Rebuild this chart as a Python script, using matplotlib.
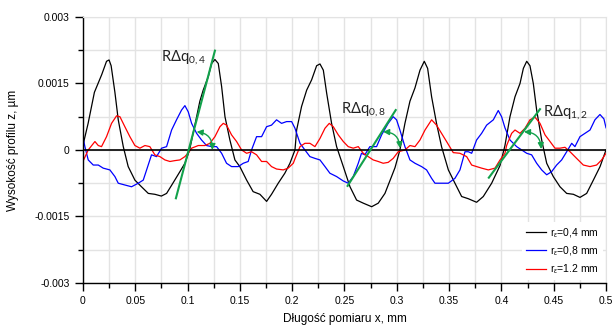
import matplotlib.pyplot as plt
from matplotlib.patches import FancyArrowPatch
from matplotlib.ticker import MultipleLocator, FuncFormatter

plt.rcParams['mathtext.fontset'] = 'custom'
plt.rcParams['mathtext.rm'] = 'Lato'
plt.rcParams['mathtext.it'] = 'Lato:italic'

# profile r=0.4 mm (black)
x_04 = [0, 0.005, 0.011, 0.018, 0.0226, 0.025, 0.027, 0.0306, 0.0338, 0.0386, 0.0433, 0.0497,
        0.056, 0.0625, 0.0688, 0.075, 0.08, 0.086, 0.0927, 0.0975, 0.102, 0.104, 0.1087, 0.1118,
        0.115, 0.1198, 0.123, 0.1262, 0.1294, 0.1326, 0.1358, 0.1405, 0.1453, 0.15, 0.1565,
        0.1627, 0.1692, 0.1756, 0.1803, 0.1867, 0.193, 0.1979, 0.2027, 0.2043, 0.209, 0.2139,
        0.2186, 0.2234, 0.2266, 0.2298, 0.233, 0.2377, 0.2425, 0.2489, 0.2553, 0.2616, 0.268,
        0.276, 0.2823, 0.2887, 0.295, 0.2983, 0.303, 0.3078, 0.3126, 0.3174, 0.3222, 0.3263,
        0.3295, 0.3333, 0.338, 0.3428, 0.3493, 0.3556, 0.362, 0.3684, 0.3763, 0.3827, 0.3907,
        0.3987, 0.4034, 0.4082, 0.413, 0.4178, 0.421, 0.4242, 0.4273, 0.4305, 0.4337, 0.4385,
        0.4433, 0.4496, 0.456, 0.4624, 0.4688, 0.4751, 0.4815, 0.4879, 0.4943, 0.5]
z_04 = [0.0001, 0.0006, 0.0013, 0.0017, 0.002, 0.00203, 0.0019, 0.0013, 0.00068, 0.000075,
        -0.000375, -0.00068, -0.00083, -0.00098, -0.001, -0.00104, -0.00098, -0.00075, -0.00049,
        -0.0003, 0.0, 0.000225, 0.00075, 0.0011, 0.00135, 0.00165, 0.00195, 0.00204, 0.00195,
        0.00143, 0.00075, 0.000225, -0.000225, -0.000375, -0.00068, -0.00094, -0.001, -0.00116,
        -0.001, -0.00075, -0.000525, -0.0003, 0.0, 0.00045, 0.00098, 0.00135, 0.00158, 0.0019,
        0.00194, 0.0018, 0.00128, 0.0006, 0.000075, -0.000375, -0.00083, -0.00113, -0.0012,
        -0.00128, -0.0012, -0.00098, -0.0006, -0.0004, 0.0, 0.0006, 0.0011, 0.0014, 0.0018,
        0.002, 0.00184, 0.0012, 0.0006, 0.000075, -0.00045, -0.00075, -0.00105, -0.0011,
        -0.00118, -0.00105, -0.00075, -0.00035, 0.0001, 0.00075, 0.0012, 0.0015, 0.00184, 0.002,
        0.0019, 0.0015, 0.0009, 0.000225, -0.0003, -0.0006, -0.00083, -0.00098, -0.001,
        -0.00107, -0.00098, -0.00068, -0.000375, 0.0]

# profile r=0.8 mm (blue)
x_08 = [0, 0.0019, 0.0051, 0.0099, 0.0147, 0.0194, 0.0258, 0.0306, 0.0338, 0.0401, 0.0465,
        0.0529, 0.0577, 0.0609, 0.0656, 0.0704, 0.0752, 0.08, 0.0848, 0.0895, 0.0943, 0.0975,
        0.1007, 0.1039, 0.1087, 0.1134, 0.1182, 0.123, 0.1278, 0.1326, 0.1373, 0.1421, 0.1485,
        0.1533, 0.158, 0.1612, 0.166, 0.1708, 0.1756, 0.1803, 0.1851, 0.1899, 0.1947, 0.1995,
        0.2027, 0.2075, 0.2122, 0.217, 0.2218, 0.2266, 0.2314, 0.2361, 0.2425, 0.2489, 0.2536,
        0.2584, 0.2632, 0.2663, 0.2695, 0.2743, 0.2807, 0.2855, 0.2918, 0.2966, 0.2998, 0.303,
        0.3078, 0.3126, 0.3174, 0.3237, 0.3285, 0.3333, 0.3365, 0.3428, 0.3493, 0.3556, 0.3604,
        0.3652, 0.3684, 0.3716, 0.3763, 0.3811, 0.3859, 0.3923, 0.397, 0.4002, 0.4034, 0.4082,
        0.4146, 0.4194, 0.4242, 0.4289, 0.4337, 0.4385, 0.4433, 0.448, 0.4528, 0.4576, 0.4624,
        0.4672, 0.4703, 0.4751, 0.4799, 0.4847, 0.4894, 0.4942, 0.498, 0.5]
z_08 = [0.0003, 0.000075, -0.000225, -0.00034, -0.00034, -0.00041, -0.00045, -0.0006, -0.00075,
        -0.00079, -0.00083, -0.00075, -0.00068, -0.00045, -0.00011, -0.00015, 0.00004, 0.000075,
        0.00045, 0.00068, 0.0009, 0.001, 0.00086, 0.0006, 0.000375, 0.000225, 0.0001, 0.000075,
        0.000075, -0.000075, -0.0003, -0.000375, -0.000375, -0.0003, -0.00026, 0.0, 0.0003,
        0.0003, 0.000525, 0.00056, 0.00068, 0.0006, 0.00064, 0.00064, 0.00049, 0.00015, 0.0,
        -0.00015, -0.00019, -0.000225, -0.000375, -0.000525, -0.0006, -0.0007, -0.00075,
        -0.0006, -0.0003, -0.000075, -0.00011, 0.000075, 0.000075, 0.00034, 0.0006, 0.00075,
        0.00068, 0.00045, 0.000075, -0.000225, -0.0003, -0.000375, -0.00045, -0.00064, -0.00075,
        -0.00075, -0.00075, -0.00064, -0.00045, -0.00004, -0.00004, -0.000075, 0.000225,
        0.000375, 0.00056, 0.00068, 0.00089, 0.00075, 0.0005, 0.000225, 0.000075, 0.0,
        -0.000075, -0.00011, -0.0003, -0.00045, -0.00056, -0.00049, -0.00034, -0.000225,
        -0.00004, 0.00015, 0.000075, 0.0003, 0.000375, 0.00045, 0.00068, 0.0008, 0.0007, 0.0005]

# profile r=1.2 mm (red)
x_12 = [0, 0.0051, 0.0115, 0.0147, 0.0178, 0.0226, 0.0274, 0.0322, 0.0354, 0.0401, 0.0449,
        0.0497, 0.0545, 0.0593, 0.064, 0.0688, 0.0736, 0.0784, 0.0832, 0.088, 0.0927, 0.0975,
        0.1016, 0.1039, 0.1103, 0.1166, 0.1214, 0.1262, 0.131, 0.1342, 0.1373, 0.1421, 0.1469,
        0.1517, 0.1565, 0.1612, 0.166, 0.1708, 0.1756, 0.1803, 0.1851, 0.1915, 0.1962, 0.2011,
        0.2027, 0.2075, 0.2122, 0.217, 0.2218, 0.2266, 0.2314, 0.2355, 0.2393, 0.2441, 0.2489,
        0.2536, 0.2584, 0.2632, 0.268, 0.2727, 0.2775, 0.2823, 0.287, 0.2918, 0.2966, 0.3014,
        0.3078, 0.3126, 0.3174, 0.3222, 0.327, 0.3333, 0.338, 0.3428, 0.3476, 0.354, 0.3604,
        0.3668, 0.3716, 0.3763, 0.3811, 0.3875, 0.3939, 0.3987, 0.4034, 0.405, 0.4098, 0.413,
        0.4178, 0.4226, 0.4273, 0.4321, 0.4369, 0.4417, 0.4465, 0.4512, 0.456, 0.4608, 0.4656,
        0.4719, 0.4783, 0.4847, 0.491, 0.4958, 0.5]
z_12 = [-0.00026, 0.0, 0.00019, 0.0001, 0.000075, 0.0003, 0.0006, 0.00077, 0.00075, 0.000525,
        0.0003, 0.0001, 0.00004, 0.0001, 0.000075, -0.00011, -0.00015, -0.000225, -0.00026,
        -0.00024, -0.000225, -0.00015, -0.00004, 0.00004, 0.0001, 0.0001, 0.00015, 0.0003,
        0.000525, 0.0006, 0.00056, 0.00034, 0.00019, 0.0, -0.000075, -0.00004, -0.00011,
        -0.00026, -0.00026, -0.000375, -0.00043, -0.00045, -0.00041, -0.0003, -0.0002,
        0.000075, 0.00015, 0.00015, 0.000075, 0.00026, 0.00049, 0.0006, 0.000525, 0.00034,
        0.00019, 0.000075, 0.00004, 0.000075, -0.000075, -0.00015, -0.000225, -0.00026, -0.0003,
        -0.00028, -0.00019, -0.00004, 0.0, 0.0001, 0.000075, 0.000225, 0.00045, 0.00068,
        0.00056, 0.000375, 0.00019, -0.00006, -0.000075, -0.00015, -0.00034, -0.000375,
        -0.00041, -0.00045, -0.00041, -0.000225, -0.000075, 0.0001, 0.000375, 0.00045, 0.000375,
        0.00049, 0.00068, 0.00074, 0.0006, 0.00034, 0.00019, 0.00004, 0.00004, 0.00006,
        -0.00004, -0.00019, -0.00034, -0.000375, -0.00034, -0.000225, -0.000075]

# tangent lines (start, end) and angle arcs
tangents = [((0.0889, -0.00109), (0.1262, 0.00224)),
            ((0.253, -0.00081), (0.299, 0.0009)),
            ((0.388, -0.000625), (0.4369, 0.00092))]
arcs = [((0.1087, 0.00041), (0.1237, 0.0)),
        ((0.287, 0.00041), (0.303, 0.00004)),
        ((0.4216, 0.00041), (0.438, 0.00002))]
tan_labels = ["0,4", "0,8", "1,2"]
label_pos = [(0.0746, 0.0021), (0.247, 0.00092), (0.4395, 0.00086)]

fig = plt.figure(figsize=(6.14, 3.26), dpi=100)
ax = fig.add_axes([0.135, 0.132, 0.852, 0.816])

ax.plot(x_04, z_04, color='black', lw=0.9, label=r'r$_\varepsilon$=0,4 mm')
ax.plot(x_08, z_08, color='#0000ff', lw=0.9, label=r'r$_\varepsilon$=0,8 mm')
ax.plot(x_12, z_12, color='#ff0000', lw=0.9, label=r'r$_\varepsilon$=1.2 mm')
ax.axhline(0, color='black', lw=1.2, zorder=3)

green = '#12a14b'
for (p0, p1) in tangents:
    ax.plot([p0[0], p1[0]], [p0[1], p1[1]], color=green, lw=1.5, zorder=4)
for (p0, p1) in arcs:
    ax.add_patch(FancyArrowPatch(p0, p1, connectionstyle='arc3,rad=-0.45',
                                 arrowstyle='<|-|>,head_length=0.7,head_width=0.35',
                                 mutation_scale=5, shrinkA=0, shrinkB=0,
                                 color=green, lw=1.0, zorder=4))
for lab, (lx, ly) in zip(tan_labels, label_pos):
    ax.text(lx, ly, 'RΔq$_{' + lab + '}$', fontsize=10.5, va='center', ha='left',
            family=['Lato', 'DejaVu Sans'], color='#222222', zorder=5)

ax.set_xlim(0, 0.5)
ax.set_ylim(-0.003, 0.003)
ax.xaxis.set_major_locator(MultipleLocator(0.05))
ax.xaxis.set_minor_locator(MultipleLocator(0.025))
ax.yaxis.set_major_locator(MultipleLocator(0.0015))
ax.yaxis.set_minor_locator(MultipleLocator(0.00075))
fmt = FuncFormatter(lambda v, p: '%g' % round(v, 6))
ax.xaxis.set_major_formatter(fmt)
ax.yaxis.set_major_formatter(fmt)
ax.grid(True, which='both', color='#e3e3e3', lw=1.0)
ax.set_axisbelow(True)
for s in ['top', 'right']:
    ax.spines[s].set_color('#e3e3e3')
for s in ['left', 'bottom']:
    ax.spines[s].set_linewidth(1.0)
ax.tick_params(which='major', length=6, width=1, labelsize=7.5,
               labelfontfamily='Liberation Sans')
ax.tick_params(which='minor', length=3.5, width=1)

ax.set_xlabel('Długość pomiaru x, mm', fontsize=8.5, family='Liberation Sans', labelpad=5)
ax.set_ylabel('Wysokość profilu z, µm', fontsize=8.5, family='Liberation Sans', labelpad=11)

leg = ax.legend(loc='lower right', frameon=True, framealpha=1,
                edgecolor='none', facecolor='white', handlelength=1.9,
                handletextpad=0.4, labelspacing=0.5, borderaxespad=0.3,
                prop={'family': 'Liberation Sans', 'size': 7.5})

fig.savefig('out.png', dpi=100)
